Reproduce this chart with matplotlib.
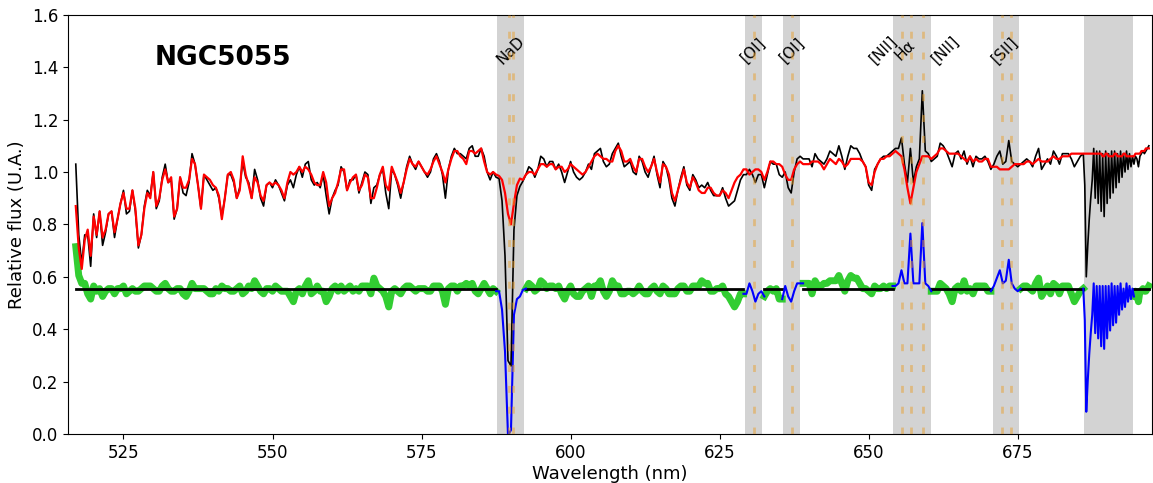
import numpy as np
import matplotlib
matplotlib.use('Agg')
import matplotlib.pyplot as plt

# wavelength grid (nm): 0.5 nm steps, finer in the telluric band
wl = np.concatenate([np.arange(517.0, 686.0, 0.5), np.arange(686.0, 697.01, 0.25)])

# observed spectrum (black)
flux_obs = np.array([
    1.03, 0.76, 0.65, 0.76, 0.76, 0.64, 0.84, 0.75, 0.85, 0.72,   # 517
    0.77, 0.84, 0.85, 0.75, 0.82, 0.88, 0.93, 0.84, 0.85, 0.93,   # 522
    0.85, 0.71, 0.76, 0.87, 0.93, 0.91, 1.00, 0.86, 0.89, 0.98,   # 527
    1.03, 0.96, 0.97, 0.82, 0.86, 0.98, 0.92, 0.91, 0.96, 1.07,   # 532
    1.03, 0.95, 0.86, 0.99, 0.97, 0.95, 0.93, 0.94, 0.90, 0.83,   # 537
    0.90, 0.99, 0.99, 0.96, 0.90, 0.94, 1.04, 0.98, 0.96, 0.90,   # 542
    1.01, 0.97, 0.90, 0.87, 0.95, 0.96, 0.94, 0.97, 0.95, 0.92,   # 547
    0.89, 0.95, 0.97, 0.94, 0.99, 1.02, 0.98, 1.03, 1.04, 0.97,   # 552
    0.95, 0.96, 0.94, 0.99, 0.91, 0.84, 0.90, 0.93, 0.95, 1.02,   # 557
    1.00, 0.93, 0.97, 0.97, 0.99, 0.92, 0.96, 1.00, 0.99, 0.88,   # 562
    0.94, 0.95, 0.99, 1.01, 0.92, 0.86, 1.01, 0.99, 0.95, 0.90,   # 567
    0.96, 1.02, 1.06, 1.03, 1.01, 1.04, 1.02, 1.00, 0.98, 1.00,   # 572
    1.05, 1.07, 1.04, 0.99, 0.90, 1.01, 1.06, 1.09, 1.07, 1.07,   # 577
    1.06, 1.05, 1.09, 1.10, 1.06, 1.06, 1.09, 1.06, 1.00, 0.97,   # 582
    1.00, 0.98, 0.975, 0.89, 0.68, 0.28, 0.26, 0.78, 0.91, 0.945,  # 587
    0.965, 0.99, 1.02, 1.01, 0.98, 1.01, 1.06, 1.05, 1.02, 1.04,  # 592
    1.04, 1.01, 1.03, 1.00, 0.96, 1.00, 1.04, 1.00, 0.98, 0.97,   # 597
    0.98, 1.00, 1.03, 1.01, 1.07, 1.08, 1.09, 1.04, 1.02, 1.03,   # 602
    1.07, 1.09, 1.11, 1.06, 1.02, 1.03, 1.04, 1.00, 0.99, 1.06,   # 607
    1.04, 1.00, 0.98, 1.02, 1.06, 0.99, 0.94, 1.04, 1.02, 0.97,   # 612
    0.90, 0.87, 0.93, 0.98, 1.02, 0.95, 0.93, 0.99, 0.97, 0.94,   # 617
    0.95, 0.94, 0.96, 0.93, 0.91, 0.91, 0.91, 0.94, 0.90, 0.87,   # 622
    0.88, 0.89, 0.93, 0.97, 0.99, 0.99, 1.01, 0.99, 0.96, 0.99,   # 627
    0.99, 0.94, 0.99, 1.04, 1.03, 1.03, 0.99, 0.98, 1.00, 0.94,   # 632
    0.92, 1.00, 1.05, 1.06, 1.05, 1.05, 1.05, 1.02, 1.07, 1.05,   # 637
    1.04, 1.03, 1.05, 1.08, 1.07, 1.06, 1.10, 1.06, 1.01, 1.06,   # 642
    1.10, 1.09, 1.09, 1.07, 1.04, 1.02, 0.95, 0.93, 1.01, 1.03,   # 647
    1.05, 1.06, 1.06, 1.07, 1.08, 1.09, 1.09, 1.13, 1.03, 0.96,   # 652
    1.09, 0.96, 1.02, 1.05, 1.31, 1.08, 1.07, 1.04, 1.05, 1.06,   # 657
    1.11, 1.10, 1.08, 1.05, 1.02, 1.07, 1.08, 1.05, 1.08, 1.03,   # 662
    1.06, 1.02, 1.06, 1.05, 1.05, 1.06, 1.04, 1.01, 1.03, 1.06,   # 667
    1.08, 1.03, 1.04, 1.12, 1.04, 1.03, 1.02, 1.03, 1.04, 1.05,   # 672
    1.04, 1.02, 1.06, 1.09, 1.01, 1.03, 1.05, 1.03, 1.08, 1.06,   # 677
    1.03, 1.07, 1.07, 1.07, 1.05, 1.02, 1.04, 1.06,               # 682
    # telluric band, 0.25 nm steps from 686
    1.07, 0.95, 0.60, 0.72, 0.82, 0.90, 0.97, 1.09, 0.90, 1.08,
    0.88, 1.08, 0.85, 1.07, 0.83, 1.08, 0.88, 1.07, 0.90, 1.08,
    0.92, 1.08, 0.94, 1.07, 0.96, 1.08, 0.98, 1.07, 1.00, 1.08,
    1.01, 1.07, 1.02, 1.06, 1.03, 1.06, 1.05, 1.02, 1.06, 1.07,
    1.08, 1.07, 1.08, 1.09, 1.10,
])

# best fit model (red)
flux_model = np.array([
    0.87, 0.71, 0.63, 0.74, 0.78, 0.68, 0.83, 0.76, 0.85, 0.75,   # 517
    0.78, 0.84, 0.85, 0.77, 0.82, 0.88, 0.92, 0.86, 0.86, 0.93,   # 522
    0.86, 0.72, 0.76, 0.86, 0.92, 0.90, 1.00, 0.87, 0.90, 0.97,   # 527
    1.01, 0.96, 0.98, 0.83, 0.86, 0.98, 0.94, 0.94, 0.97, 1.05,   # 532
    1.03, 0.95, 0.86, 0.99, 0.98, 0.97, 0.95, 0.94, 0.91, 0.82,   # 537
    0.90, 0.99, 1.00, 0.97, 0.90, 0.93, 1.06, 0.99, 0.95, 0.90,   # 542
    0.98, 0.96, 0.91, 0.89, 0.95, 0.96, 0.95, 0.96, 0.95, 0.93,   # 547
    0.90, 0.96, 1.00, 0.99, 1.00, 1.02, 1.00, 1.02, 1.01, 0.99,   # 552
    0.96, 0.95, 0.95, 1.00, 0.96, 0.87, 0.90, 0.92, 0.96, 1.01,   # 557
    1.01, 0.93, 0.96, 0.98, 0.99, 0.93, 0.95, 0.99, 0.98, 0.90,   # 562
    0.90, 0.94, 0.99, 1.02, 0.95, 0.93, 1.02, 0.99, 0.96, 0.92,   # 567
    0.96, 1.01, 1.05, 1.03, 1.02, 1.04, 1.02, 1.00, 0.99, 1.01,   # 572
    1.04, 1.06, 1.03, 1.00, 0.96, 1.01, 1.05, 1.08, 1.08, 1.06,   # 577
    1.05, 1.03, 1.08, 1.08, 1.07, 1.08, 1.09, 1.04, 1.00, 0.99,   # 582
    1.00, 0.99, 0.985, 0.97, 0.92, 0.84, 0.80, 0.88, 0.95, 0.975,  # 587
    0.97, 0.99, 1.00, 1.00, 0.99, 1.01, 1.03, 1.03, 1.02, 1.03,   # 592
    1.03, 1.01, 1.02, 1.02, 1.00, 1.01, 1.03, 1.02, 1.01, 1.00,   # 597
    0.99, 1.00, 1.02, 1.04, 1.06, 1.07, 1.06, 1.05, 1.05, 1.04,   # 602
    1.04, 1.08, 1.10, 1.08, 1.04, 1.04, 1.05, 1.02, 1.00, 1.05,   # 607
    1.05, 1.02, 1.00, 1.02, 1.05, 1.00, 0.96, 1.03, 1.02, 0.99,   # 612
    0.92, 0.89, 0.93, 0.97, 1.01, 0.96, 0.94, 0.98, 0.96, 0.93,   # 617
    0.92, 0.92, 0.94, 0.94, 0.92, 0.91, 0.91, 0.93, 0.92, 0.90,   # 622
    0.93, 0.96, 0.98, 0.99, 1.01, 1.01, 0.99, 1.00, 1.01, 1.01,   # 627
    1.00, 0.97, 1.00, 1.04, 1.04, 1.03, 1.03, 1.02, 0.99, 0.97,   # 632
    0.97, 1.01, 1.03, 1.04, 1.03, 1.03, 1.03, 1.04, 1.04, 1.04,   # 637
    1.03, 1.01, 1.03, 1.05, 1.04, 1.03, 1.05, 1.04, 1.02, 1.03,   # 642
    1.05, 1.05, 1.05, 1.05, 1.04, 1.02, 0.96, 0.95, 1.00, 1.03,   # 647
    1.05, 1.05, 1.06, 1.06, 1.07, 1.08, 1.07, 1.06, 1.01, 0.94,   # 652
    0.88, 0.94, 1.00, 1.03, 1.06, 1.06, 1.06, 1.05, 1.06, 1.07,   # 657
    1.09, 1.09, 1.08, 1.07, 1.07, 1.07, 1.07, 1.06, 1.05, 1.04,   # 662
    1.06, 1.04, 1.05, 1.04, 1.04, 1.05, 1.05, 1.02, 1.02, 1.02,   # 667
    1.01, 1.01, 1.01, 1.01, 1.02, 1.03, 1.03, 1.03, 1.03, 1.04,   # 672
    1.04, 1.03, 1.04, 1.05, 1.04, 1.04, 1.04, 1.05, 1.06, 1.05,   # 677
    1.05, 1.06, 1.06, 1.06, 1.07, 1.07, 1.07, 1.07,               # 682
    # telluric band, 0.25 nm steps from 686
    1.07, 1.07, 1.07, 1.07, 1.07, 1.07, 1.07, 1.07, 1.07, 1.07,
    1.07, 1.07, 1.07, 1.06, 1.06, 1.07, 1.07, 1.06, 1.06, 1.06,
    1.06, 1.07, 1.07, 1.06, 1.06, 1.06, 1.06, 1.07, 1.07, 1.06,
    1.06, 1.06, 1.06, 1.06, 1.06, 1.07, 1.07, 1.07, 1.07, 1.08,
    1.08, 1.08, 1.09, 1.09, 1.09,
])

resid_offset = 0.555

# masked windows (nm)
mask_lo = [587.7, 629.3, 635.6, 654.1, 670.8, 686.2]
mask_hi = [592.2, 632.1, 638.5, 660.4, 675.3, 694.4]

# emission / absorption lines (nm)
line_wl = [589.7, 590.3, 630.7, 637.1, 655.6, 657.1, 659.1, 672.3, 673.8]
label_txt = ['NaD', '[OI]', '[OI]', '[NII]', 'H\u03b1', '[NII]', '[SII]']
label_x = [589.9, 630.6, 637.1, 652.5, 656.1, 662.8, 672.9]

resid = flux_obs - flux_model + resid_offset

in_mask = np.zeros(len(wl), dtype=bool)
for lo, hi in zip(mask_lo, mask_hi):
    in_mask |= (wl >= lo) & (wl <= hi)
blue_mask = in_mask | np.roll(in_mask, 1) | np.roll(in_mask, -1)

fig = plt.figure(figsize=(11.53, 4.83), dpi=100)
ax = fig.add_axes([0.059, 0.1014, 0.94, 0.868])

for lo, hi in zip(mask_lo, mask_hi):
    ax.axvspan(lo, hi, color='lightgray', zorder=0, lw=0)

ax.plot(wl, np.where(in_mask, np.nan, resid), color='limegreen', lw=5, zorder=2)
ax.plot(wl, np.where(in_mask, np.nan, resid_offset), color='black', lw=2, zorder=3)
ax.plot(wl, np.where(blue_mask, resid, np.nan), color='blue', lw=1.5, zorder=3)
ax.plot(wl, flux_obs, color='black', lw=1.2, zorder=4)
ax.plot(wl, flux_model, color='red', lw=1.6, zorder=5)

for w in line_wl:
    ax.axvline(w, color='#e8a030', alpha=0.5, lw=2, ls=(0, (2.5, 5)), zorder=6)

for t, x in zip(label_txt, label_x):
    ax.text(x, 1.466, t, rotation=45, ha='center', va='center', fontsize=11)

ax.text(541.7, 1.435, 'NGC5055', fontsize=19, fontweight='bold', ha='center', va='center')

ax.set_xlim(515.7, 697.5)
ax.set_ylim(0, 1.6)
ax.set_xticks([525, 550, 575, 600, 625, 650, 675])
ax.tick_params(labelsize=12)
ax.set_xlabel('Wavelength (nm)', fontsize=13, labelpad=2)
ax.set_ylabel('Relative flux (U.A.)', fontsize=13)

fig.savefig('out.png', dpi=100)
